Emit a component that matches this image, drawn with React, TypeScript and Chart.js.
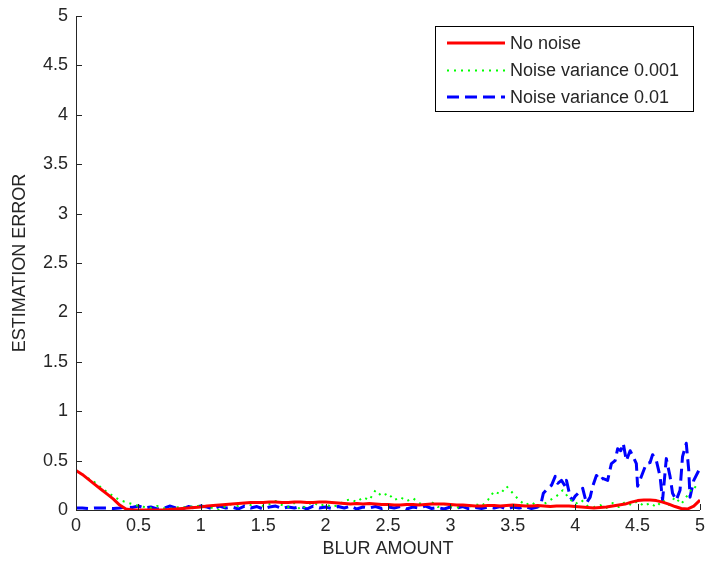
import React, { useEffect, useRef } from "react";
import { Chart, registerables } from "chart.js";

Chart.register(...registerables);

const blurX = [
  0, 0.05, 0.1, 0.15, 0.2, 0.25, 0.3, 0.35, 0.4, 0.45, 0.5, 0.55, 0.6, 0.65, 0.7, 0.75, 0.8, 0.85, 0.9, 0.95,
  1, 1.05, 1.1, 1.15, 1.2, 1.25, 1.3, 1.35, 1.4, 1.45, 1.5, 1.55, 1.6, 1.65, 1.7, 1.75, 1.8, 1.85, 1.9, 1.95,
  2, 2.05, 2.1, 2.15, 2.2, 2.25, 2.3, 2.35, 2.4, 2.45, 2.5, 2.55, 2.6, 2.65, 2.7, 2.75, 2.8, 2.85, 2.9, 2.95,
  3, 3.05, 3.1, 3.15, 3.2, 3.25, 3.3, 3.35, 3.4, 3.45, 3.5, 3.55, 3.6, 3.65, 3.7, 3.75, 3.8, 3.85, 3.9, 3.95,
  4, 4.05, 4.1, 4.15, 4.2, 4.25, 4.3, 4.35, 4.4, 4.45, 4.5, 4.55, 4.6, 4.65, 4.7, 4.75, 4.8, 4.85, 4.9, 4.95, 5,
];

const noNoise = [
  0.4, 0.36, 0.31, 0.26, 0.21, 0.16, 0.11, 0.05, 0.01, 0.0, 0.0, 0.0, 0.0, 0.0, 0.0, 0.005, 0.01, 0.015, 0.02, 0.025,
  0.03, 0.04, 0.045, 0.05, 0.055, 0.06, 0.065, 0.07, 0.075, 0.075, 0.075, 0.08, 0.08, 0.075, 0.075, 0.08, 0.08, 0.075, 0.075, 0.08,
  0.08, 0.075, 0.07, 0.065, 0.06, 0.065, 0.06, 0.065, 0.06, 0.055, 0.055, 0.05, 0.05, 0.055, 0.055, 0.05, 0.055, 0.06, 0.06, 0.06,
  0.055, 0.05, 0.05, 0.045, 0.04, 0.04, 0.045, 0.045, 0.04, 0.045, 0.05, 0.045, 0.04, 0.04, 0.045, 0.04, 0.035, 0.04, 0.04, 0.04,
  0.035, 0.03, 0.025, 0.02, 0.025, 0.03, 0.04, 0.05, 0.06, 0.08, 0.095, 0.1, 0.1, 0.095, 0.08, 0.06, 0.035, 0.015, 0.01, 0.04, 0.1,
];

const noiseLow = [
  0.4, 0.36, 0.32, 0.28, 0.23, 0.18, 0.14, 0.1, 0.08, 0.06, 0.04, 0.03, 0.02, 0.04, 0.02, 0.01, 0.03, 0.02, 0.04, 0.03,
  0.05, 0.03, 0.02, 0.0, 0.04, 0.06, 0.04, 0.07, 0.05, 0.08, 0.04, 0.06, 0.09, 0.05, 0.03, 0.07, 0.0, 0.05, 0.08, 0.04,
  0.06, 0.03, 0.05, 0.09, 0.11, 0.08, 0.13, 0.1, 0.2, 0.14, 0.17, 0.1, 0.13, 0.09, 0.12, 0.07, 0.05, 0.08, 0.03, 0.06,
  0.04, 0.02, 0.05, 0.03, 0.06, 0.04, 0.1, 0.19, 0.16, 0.24, 0.17, 0.1, 0.05, 0.08, 0.03, 0.06, 0.1, 0.14, 0.2, 0.12,
  0.06, 0.1, 0.04, 0.03, 0.05, 0.02, 0.07, 0.03, 0.08, 0.05, 0.09, 0.04, 0.07, 0.03, 0.1, 0.05, 0.13, 0.06, 0.15, 0.24, 0.2,
];

const highX = [
  0, 0.05, 0.1, 0.15, 0.2, 0.25, 0.3, 0.35, 0.4, 0.45, 0.5, 0.55, 0.6, 0.65, 0.7, 0.75, 0.8, 0.85, 0.9, 0.95,
  1, 1.05, 1.1, 1.15, 1.2, 1.25, 1.3, 1.35, 1.4, 1.45, 1.5, 1.55, 1.6, 1.65, 1.7, 1.75, 1.8, 1.85, 1.9, 1.95,
  2, 2.05, 2.1, 2.15, 2.2, 2.25, 2.3, 2.35, 2.4, 2.45, 2.5, 2.55, 2.6, 2.65, 2.7, 2.75, 2.8, 2.85, 2.9, 2.95,
  3, 3.05, 3.1, 3.15, 3.2, 3.25, 3.3, 3.35, 3.4, 3.45, 3.5, 3.55, 3.6, 3.65,
  3.7, 3.725, 3.745, 3.78, 3.81, 3.84, 3.86, 3.89, 3.92, 3.93, 3.96, 3.98, 4.0, 4.04, 4.06, 4.09, 4.12, 4.14,
  4.17, 4.2, 4.22, 4.26, 4.29, 4.32, 4.34, 4.365, 4.385, 4.41, 4.44, 4.46, 4.49, 4.5, 4.53, 4.57, 4.6, 4.62,
  4.65, 4.68, 4.7, 4.73, 4.76, 4.78, 4.81, 4.84, 4.86, 4.89, 4.91, 4.92, 4.95, 4.99,
];

const noiseHigh = [
  0.02, 0.02, 0.015, 0.02, 0.02, 0.02, 0.015, 0.02, 0.03, 0.025, 0.04, 0.02, 0.03, 0.01, 0.015, 0.04, 0.02, 0.01, 0.035, 0.02,
  0.04, 0.03, 0.01, 0.04, 0.02, 0.03, 0.01, 0.04, 0.02, 0.035, 0.01, 0.03, 0.04, 0.015, 0.03, 0.02, 0.035, 0.01, 0.04, 0.02,
  0.03, 0.015, 0.035, 0.02, 0.04, 0.01, 0.03, 0.02, 0.035, 0.015, 0.03, 0.02, 0.035, 0.01, 0.03, 0.02, 0.04, 0.015, 0.025, 0.01,
  0.03, 0.02, 0.035, 0.01, 0.025, 0.015, 0.03, 0.02, 0.035, 0.01, 0.03, 0.02, 0.035, 0.015,
  0.03, 0.06, 0.17, 0.22, 0.25, 0.34, 0.27, 0.3, 0.24, 0.3, 0.13, 0.1, 0.14, 0.19, 0.22, 0.07, 0.13, 0.24,
  0.35, 0.3, 0.32, 0.3, 0.47, 0.5, 0.62, 0.6, 0.675, 0.5, 0.6, 0.55, 0.47, 0.24, 0.34, 0.47, 0.48, 0.56,
  0.5, 0.34, 0.1, 0.52, 0.34, 0.17, 0.1, 0.2, 0.54, 0.675, 0.4, 0.13, 0.3, 0.4,
];

const seriesNames = ["No noise", "Noise variance 0.001", "Noise variance 0.01"];
const seriesColors = ["#ff0000", "#00ff00", "#0000ff"];
const seriesDash: number[][] = [[], [2, 5], [12, 6]];
const seriesWidth = [3, 2, 3];

const FONT = "'Liberation Sans', Arial, sans-serif";
const INK = "#262626";

const pairs = (xs: number[], ys: number[]) => xs.map((x, i) => ({ x, y: ys[i] }));

const axesPlugin = {
  id: "matlabAxes",
  afterDraw(chart: any) {
    const { ctx, chartArea } = chart;
    const xs = chart.scales.x;
    const ys = chart.scales.y;
    ctx.save();
    ctx.strokeStyle = INK;
    ctx.lineWidth = 1;
    ctx.beginPath();
    ctx.moveTo(chartArea.left + 0.5, chartArea.top);
    ctx.lineTo(chartArea.left + 0.5, chartArea.bottom + 0.5);
    ctx.lineTo(chartArea.right, chartArea.bottom + 0.5);
    for (const t of xs.ticks) {
      const px = Math.round(xs.getPixelForValue(t.value)) + 0.5;
      ctx.moveTo(px, chartArea.bottom);
      ctx.lineTo(px, chartArea.bottom - 6);
    }
    for (const t of ys.ticks) {
      const py = Math.round(ys.getPixelForValue(t.value)) + 0.5;
      ctx.moveTo(chartArea.left, py);
      ctx.lineTo(chartArea.left + 6, py);
    }
    ctx.stroke();

    // legend box
    const bx = 435.5, by = 26.5, bw = 258, bh = 85;
    ctx.fillStyle = "#ffffff";
    ctx.fillRect(bx, by, bw, bh);
    ctx.strokeStyle = "#000000";
    ctx.strokeRect(bx, by, bw, bh);
    const rows = [43, 70.5, 97];
    ctx.font = `18px ${FONT}`;
    ctx.textBaseline = "middle";
    ctx.textAlign = "left";
    chart.data.datasets.forEach((ds: any, i: number) => {
      ctx.save();
      ctx.strokeStyle = ds.borderColor;
      ctx.lineWidth = ds.borderWidth;
      ctx.setLineDash(ds.borderDash || []);
      ctx.beginPath();
      ctx.moveTo(447, rows[i]);
      ctx.lineTo(505, rows[i]);
      ctx.stroke();
      ctx.restore();
      ctx.fillStyle = INK;
      ctx.fillText(ds.label, 510, rows[i] + 1);
    });
    ctx.restore();
  },
};

export default function App() {
  const ref = useRef<HTMLCanvasElement | null>(null);
  useEffect(() => {
    if (!ref.current) return;
    const sets = [pairs(blurX, noNoise), pairs(blurX, noiseLow), pairs(highX, noiseHigh)];
    const chart = new Chart(ref.current, {
      type: "line",
      data: {
        datasets: sets.map((d, i) => ({
          label: seriesNames[i],
          data: d,
          borderColor: seriesColors[i],
          backgroundColor: seriesColors[i],
          borderWidth: seriesWidth[i],
          borderDash: seriesDash[i],
          borderJoinStyle: "round" as const,
          pointRadius: 0,
          tension: 0,
          fill: false,
        })),
      },
      options: {
        animation: false,
        responsive: false,
        devicePixelRatio: 1,
        layout: { padding: { top: 16, right: 7, left: 0, bottom: 0 } },
        plugins: { legend: { display: false }, tooltip: { enabled: false } },
        scales: {
          x: {
            type: "linear",
            min: 0,
            max: 5,
            border: { display: false },
            grid: { display: false, drawTicks: false },
            ticks: {
              stepSize: 0.5,
              padding: 5,
              color: INK,
              font: { family: FONT, size: 18 },
              maxRotation: 0,
              autoSkip: false,
              callback: (v: any) => String(+v),
            },
            title: {
              display: true,
              text: "BLUR AMOUNT",
              color: INK,
              font: { family: FONT, size: 18 },
              padding: { top: 0, bottom: 2 },
            },
            afterFit: (s: any) => {
              s.height = 52;
              s.paddingRight = 0;
              s.paddingLeft = 0;
            },
          },
          y: {
            min: 0,
            max: 5,
            border: { display: false },
            grid: { display: false, drawTicks: false },
            ticks: {
              stepSize: 0.5,
              padding: 8,
              color: INK,
              font: { family: FONT, size: 18 },
              autoSkip: false,
              callback: (v: any) => String(+v),
            },
            title: {
              display: true,
              text: "ESTIMATION ERROR",
              color: INK,
              font: { family: FONT, size: 18 },
              padding: { top: 9, bottom: 0 },
            },
            afterFit: (s: any) => {
              s.width = 76;
              s.paddingTop = 0;
              s.paddingBottom = 0;
            },
          },
        },
      },
      plugins: [axesPlugin],
    });
    return () => chart.destroy();
  }, []);
  return (
    <div style={{ position: "absolute", left: 0, top: 0, width: 707, height: 562, background: "#fff" }}>
      <canvas ref={ref} width={707} height={562} />
    </div>
  );
}
